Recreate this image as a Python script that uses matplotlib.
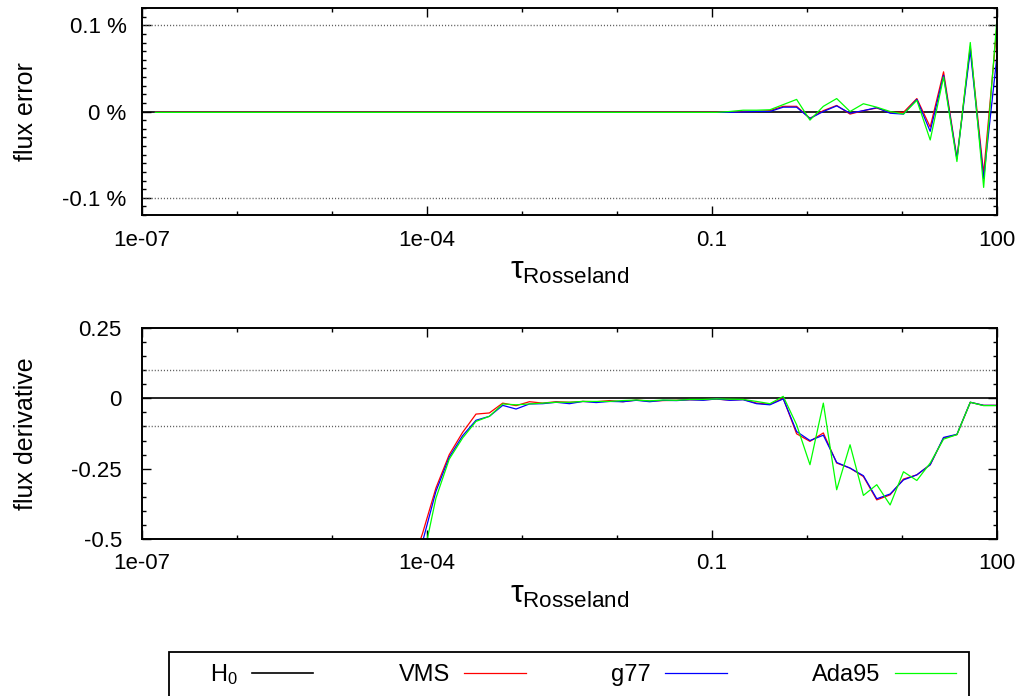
# Flux error / flux derivative versus Rosseland optical depth.
import numpy as np
import matplotlib
matplotlib.use('Agg')
import matplotlib.pyplot as plt
from matplotlib.patches import Rectangle
from matplotlib.ticker import LogLocator, MultipleLocator, NullFormatter

plt.rcParams['font.family'] = ['Liberation Sans', 'DejaVu Sans']
plt.rcParams['mathtext.fontset'] = 'custom'
plt.rcParams['mathtext.rm'] = 'Liberation Sans'
plt.rcParams['mathtext.it'] = 'Liberation Sans'
plt.rcParams['mathtext.bf'] = 'Liberation Sans:bold'

# depth grid of the model (65 points, 1e-7 .. 100)
tau = np.logspace(-7, 2, 65)

# top panel: flux error in %, depth points 1..64
err_vms = [-0.0005, -0.0005, -0.0005, -0.0005, -0.0005, -0.0005, -0.0005, -0.0005, -0.0005, -0.0005, -0.0005,
           -0.0005, -0.0005, -0.0005, -0.0005, -0.0005, -0.0005, -0.0005, -0.0005, -0.0005, -0.0005, -0.0005,
           -0.0005, -0.0005, -0.0005, -0.0005, -0.0005, -0.0005, -0.0005, -0.0005, -0.0005, -0.0005, -0.0005,
           -0.0005, -0.0005, -0.0005, -0.0005, -0.0005, -0.0005, -0.0005, -0.0005, -0.0005, -0.0005, -0.0005,
           0.0, 0.0, 0.001,
           0.006, 0.006, -0.008, 0.001, 0.007, -0.003, 0.001, 0.004, -0.001, -0.001, 0.015, -0.018,
           0.046, -0.054, 0.075, -0.072, 0.100]
err_g77 = [-0.001, -0.001, -0.001, -0.001, -0.001, -0.001, -0.001, -0.001, -0.001, -0.001, -0.001,
           -0.001, -0.001, -0.001, -0.001, -0.001, -0.001, -0.001, -0.001, -0.001, -0.001, -0.001,
           -0.001, -0.001, -0.001, -0.001, -0.001, -0.001, -0.001, -0.001, -0.001, -0.001, -0.001,
           -0.001, -0.001, -0.001, -0.001, -0.001, -0.001, -0.001, -0.001, -0.001, -0.001, -0.001,
           -0.0005, 0.0, 0.0,
           0.005, 0.005, -0.008, 0.0, 0.0065, -0.002, 0.001, 0.0045, -0.002, -0.003, 0.014, -0.023,
           0.042, -0.055, 0.071, -0.078, 0.065]
err_ada = [-0.001, -0.001, -0.001, -0.001, -0.001, -0.001, -0.001, -0.001, -0.001, -0.001, -0.001,
           -0.001, -0.001, -0.001, -0.001, -0.001, -0.001, -0.001, -0.001, -0.001, -0.001, -0.001,
           -0.001, -0.001, -0.001, -0.001, -0.001, -0.001, -0.001, -0.001, -0.001, -0.001, -0.001,
           -0.001, -0.001, -0.001, -0.001, -0.001, -0.001, -0.001, -0.001, -0.001, -0.001,
           0.0, 0.0015, 0.0015, 0.002,
           0.008, 0.014, -0.010, 0.006, 0.015, 0.000, 0.009, 0.005, 0.000, -0.003, 0.013, -0.033,
           0.040, -0.058, 0.080, -0.088, 0.108]

# bottom panel: flux derivative, depth points 20..64
der_vms = [-0.62, -0.48, -0.319, -0.200, -0.121, -0.056, -0.052, -0.017, -0.026, -0.012, -0.017,
           -0.012, -0.014, -0.011, -0.012, -0.008, -0.012, -0.006, -0.010, -0.008, -0.007, -0.005,
           -0.005, -0.003, -0.006, -0.004, -0.017, -0.021, 0.0, -0.126, -0.153, -0.123, -0.230,
           -0.248, -0.278, -0.361, -0.343, -0.287, -0.272, -0.236, -0.141, -0.129, -0.014, -0.025, -0.025]
der_g77 = [-0.70, -0.51, -0.331, -0.209, -0.133, -0.078, -0.064, -0.025, -0.038, -0.020, -0.019,
           -0.014, -0.019, -0.011, -0.015, -0.011, -0.012, -0.007, -0.012, -0.007, -0.008, -0.005,
           -0.007, -0.002, -0.007, -0.005, -0.019, -0.023, -0.002, -0.118, -0.150, -0.131, -0.228,
           -0.248, -0.275, -0.357, -0.340, -0.290, -0.272, -0.236, -0.139, -0.128, -0.014, -0.025, -0.025]
der_ada = [-0.80, -0.58, -0.355, -0.216, -0.141, -0.082, -0.064, -0.020, -0.023, -0.020, -0.017,
           -0.014, -0.014, -0.011, -0.011, -0.011, -0.008, -0.006, -0.009, -0.006, -0.007, -0.004,
           -0.004, -0.002, -0.003, -0.004, -0.011, -0.019, 0.007, -0.094, -0.236, -0.017, -0.325,
           -0.165, -0.345, -0.307, -0.379, -0.261, -0.292, -0.230, -0.145, -0.129, -0.014, -0.026, -0.026]

labels = [r'H$_0$', 'VMS', 'g77', 'Ada95']
colors = ['black', '#ff0000', '#0000ff', '#00ff00']
xticks = [1e-7, 1e-4, 0.1, 100]
xticklabels = ['1e-07', '1e-04', '0.1', '100']


def style_axes(ax, xpad, ypad):
    ax.set_xscale('log')
    ax.set_xlim(1e-7, 100)
    ax.set_xticks(xticks)
    ax.set_xticklabels(xticklabels)
    ax.xaxis.set_minor_locator(LogLocator(base=10, subs=(1.0,), numticks=30))
    ax.xaxis.set_minor_formatter(NullFormatter())
    ax.tick_params(which='both', direction='in', top=True, right=True, width=1.0, labelsize=16)
    ax.tick_params(which='major', length=6.5)
    ax.tick_params(which='minor', length=3)
    ax.tick_params(axis='x', pad=xpad)
    ax.tick_params(axis='y', pad=ypad)
    for s in ax.spines.values():
        s.set_linewidth(1.4)
    ax.set_xlabel(r'$\tau_{\mathrm{Rosseland}}$', fontsize=23)


fig = plt.figure(figsize=(10.21, 6.96), dpi=100)
ax1 = fig.add_axes([142/1021, 1-215/696, 855/1021, 207/696])
ax2 = fig.add_axes([142/1021, 1-539/696, 855/1021, 211/696])

# top panel
for yv in (0.1, -0.1):
    ax1.axhline(yv, color='#606060', ls=(0, (0.8, 1.4)), lw=1.0)
h0 = ax1.axhline(0, color=colors[0], lw=1.2)
l1, = ax1.plot(tau[1:], err_vms, color=colors[1], lw=0.9)
l2, = ax1.plot(tau[1:], err_g77, color=colors[2], lw=0.9)
l3, = ax1.plot(tau[1:], err_ada, color=colors[3], lw=0.9)
ax1.set_ylim(-0.12, 0.12)
ax1.set_yticks([-0.1, 0, 0.1])
ax1.set_yticklabels(['-0.1 %', '0 %', '0.1 %'])
ax1.yaxis.set_minor_locator(MultipleLocator(0.01))
style_axes(ax1, 11, 11)
ax1.set_ylabel('flux error', fontsize=18)
ax1.yaxis.set_label_coords(-0.122, 0.5)
ax1.xaxis.set_label_coords(0.5, -0.2)

# bottom panel
for yv in (0.1, -0.1):
    ax2.axhline(yv, color='#606060', ls=(0, (0.8, 1.4)), lw=1.0)
ax2.axhline(0, color=colors[0], lw=1.2)
ax2.plot(tau[20:], der_vms, color=colors[1], lw=0.9)
ax2.plot(tau[20:], der_g77, color=colors[2], lw=0.9)
ax2.plot(tau[20:], der_ada, color=colors[3], lw=0.9)
ax2.set_ylim(-0.5, 0.25)
ax2.set_yticks([-0.5, -0.25, 0, 0.25])
ax2.set_yticklabels(['-0.5', '-0.25', '0', '0.25'])
ax2.yaxis.set_minor_locator(MultipleLocator(0.05))
style_axes(ax2, 10, 14.5)
ax2.set_ylabel('flux derivative', fontsize=18)
ax2.yaxis.set_label_coords(-0.122, 0.5)
ax2.xaxis.set_label_coords(0.5, -0.195)

# key box drawn separately, runs off the bottom edge
fig.patches.append(Rectangle((169/1021, -0.02), 800/1021, 1-652/696+0.02,
                             transform=fig.transFigure, fill=False,
                             edgecolor='black', lw=1.3))
leg = fig.legend([h0, l1, l2, l3], labels, loc='upper left',
                 bbox_to_anchor=(210/1021, 1-662/696-0.1, 746/1021, 0.1),
                 mode='expand', ncol=4, markerfirst=False, fontsize=17,
                 frameon=False, handlelength=2.6, handletextpad=0.6,
                 borderpad=0.0, borderaxespad=0)

fig.savefig('out.png', dpi=100)
